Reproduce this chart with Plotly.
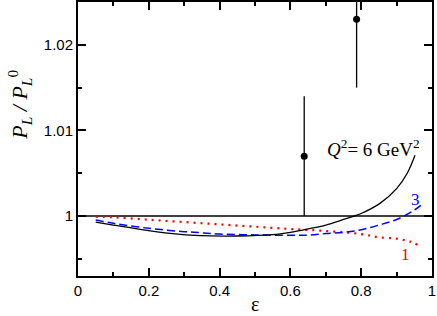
import plotly.graph_objects as go

# Curves (epsilon, ratio)
eps_solid = [0.05, 0.1, 0.176, 0.26, 0.345, 0.45, 0.55, 0.6, 0.65, 0.7, 0.75, 0.78, 0.8, 0.853, 0.9, 0.93, 0.952]
val_solid = [0.9993, 0.99895, 0.99845, 0.99798, 0.99771, 0.99767, 0.99783, 0.9981, 0.9985, 0.99895, 0.9996, 1.0000, 1.0003, 1.00148, 1.0032, 1.0050, 1.0071]

eps_dash = [0.05, 0.1, 0.2, 0.3, 0.345, 0.4, 0.5, 0.6, 0.65, 0.7, 0.75, 0.8, 0.85, 0.9, 0.95, 0.973]
val_dash = [0.99953, 0.99915, 0.99857, 0.99818, 0.99806, 0.9979, 0.9978, 0.99775, 0.99778, 0.99795, 0.9981, 0.9984, 0.99895, 0.9996, 1.0007, 1.0014]

eps_dot = [0.05, 0.1, 0.2, 0.3, 0.4, 0.5, 0.6, 0.7, 0.8, 0.85, 0.9, 0.94, 0.964]
val_dot = [0.99992, 0.99985, 0.99957, 0.9993, 0.99903, 0.99876, 0.99849, 0.99826, 0.9979, 0.99752, 0.99736, 0.997, 0.99655]

# Data points
eps_data = [0.639, 0.787]
val_data = [1.007, 1.023]
err_data = [0.007, 0.008]

ref_eps = [0.0, 1.0]
ref_line = [1.0, 1.0]

x_ticks = [0, 0.2, 0.4, 0.6, 0.8, 1]
x_ticktext = ["0", "0.2", "0.4", "0.6", "0.8", "1"]
y_ticks = [1.0, 1.01, 1.02]
y_ticktext = ["1", "1.01", "1.02"]

fig = go.Figure()
fig.add_trace(go.Scatter(x=ref_eps, y=ref_line, mode="lines",
                         line=dict(color="black", width=1.6), hoverinfo="skip"))
fig.add_trace(go.Scatter(x=eps_dot, y=val_dot, mode="lines", line_shape="spline",
                         line=dict(color="#ff0000", width=2.2, dash="2px,5px")))
fig.add_trace(go.Scatter(x=eps_dash, y=val_dash, mode="lines", line_shape="spline",
                         line=dict(color="#0000ff", width=1.5, dash="8px,4px")))
fig.add_trace(go.Scatter(x=eps_solid, y=val_solid, mode="lines", line_shape="spline",
                         line=dict(color="black", width=1.3)))
fig.add_trace(go.Scatter(x=eps_data, y=val_data, mode="markers",
                         marker=dict(color="black", size=7),
                         error_y=dict(type="data", array=err_data, visible=True,
                                      color="black", thickness=1.3, width=0)))

serif = "Liberation Serif"
fig.add_annotation(x=0.836, y=1.0079, xref="x", yref="y", showarrow=False,
                   text="<i>Q</i><sup>2</sup>= 6 GeV<sup>2</sup>",
                   font=dict(family=serif, size=19, color="black"))
fig.add_annotation(x=0.953, y=1.0019, xref="x", yref="y", showarrow=False,
                   text="3", font=dict(family=serif, size=17, color="#0000ff"))
fig.add_annotation(x=0.925, y=0.9955, xref="x", yref="y", showarrow=False,
                   text="1", font=dict(family=serif, size=17, color="#ff0000"))
# axis titles
fig.add_annotation(x=0.5, y=0, xref="paper", yref="paper", showarrow=False,
                   yanchor="middle", yshift=-28, text="ε",
                   font=dict(family=serif, size=20, color="black"))
fig.add_annotation(x=0, y=0.625, xref="paper", yref="paper", showarrow=False,
                   xanchor="center", xshift=-58, textangle=-90,
                   text="<i>P</i><sub><i>L</i></sub><i>\u00a0/\u00a0P</i><sub><i>L</i></sub><sup>0</sup>",
                   font=dict(family=serif, size=22, color="black"))

axis_common = dict(showline=True, linecolor="black", linewidth=2, mirror="ticks",
                   ticks="inside", tickcolor="black", tickwidth=2, ticklen=8,
                   showgrid=False, zeroline=False, automargin=False,
                   tickfont=dict(family="Liberation Sans", size=15, color="black"))

fig.update_xaxes(range=[0, 1], tickvals=x_ticks, ticktext=x_ticktext,
                 minor=dict(ticks="inside", dtick=0.1, tick0=0, ticklen=4, tickwidth=2, tickcolor="black"),
                 **axis_common)
fig.update_yaxes(range=[0.993, 1.025], tickvals=y_ticks, ticktext=y_ticktext,
                 minor=dict(ticks="inside", tickvals=[0.995, 1.005, 1.015], ticklen=4, tickwidth=2, tickcolor="black"),
                 **axis_common)

fig.update_layout(width=437, height=316, margin=dict(l=78, r=5, t=2, b=40),
                  plot_bgcolor="white", paper_bgcolor="white", showlegend=False)

fig.write_html("out.html", config={"displayModeBar": False},
               post_script="document.body.style.margin='0px';document.body.style.overflow='hidden';")
